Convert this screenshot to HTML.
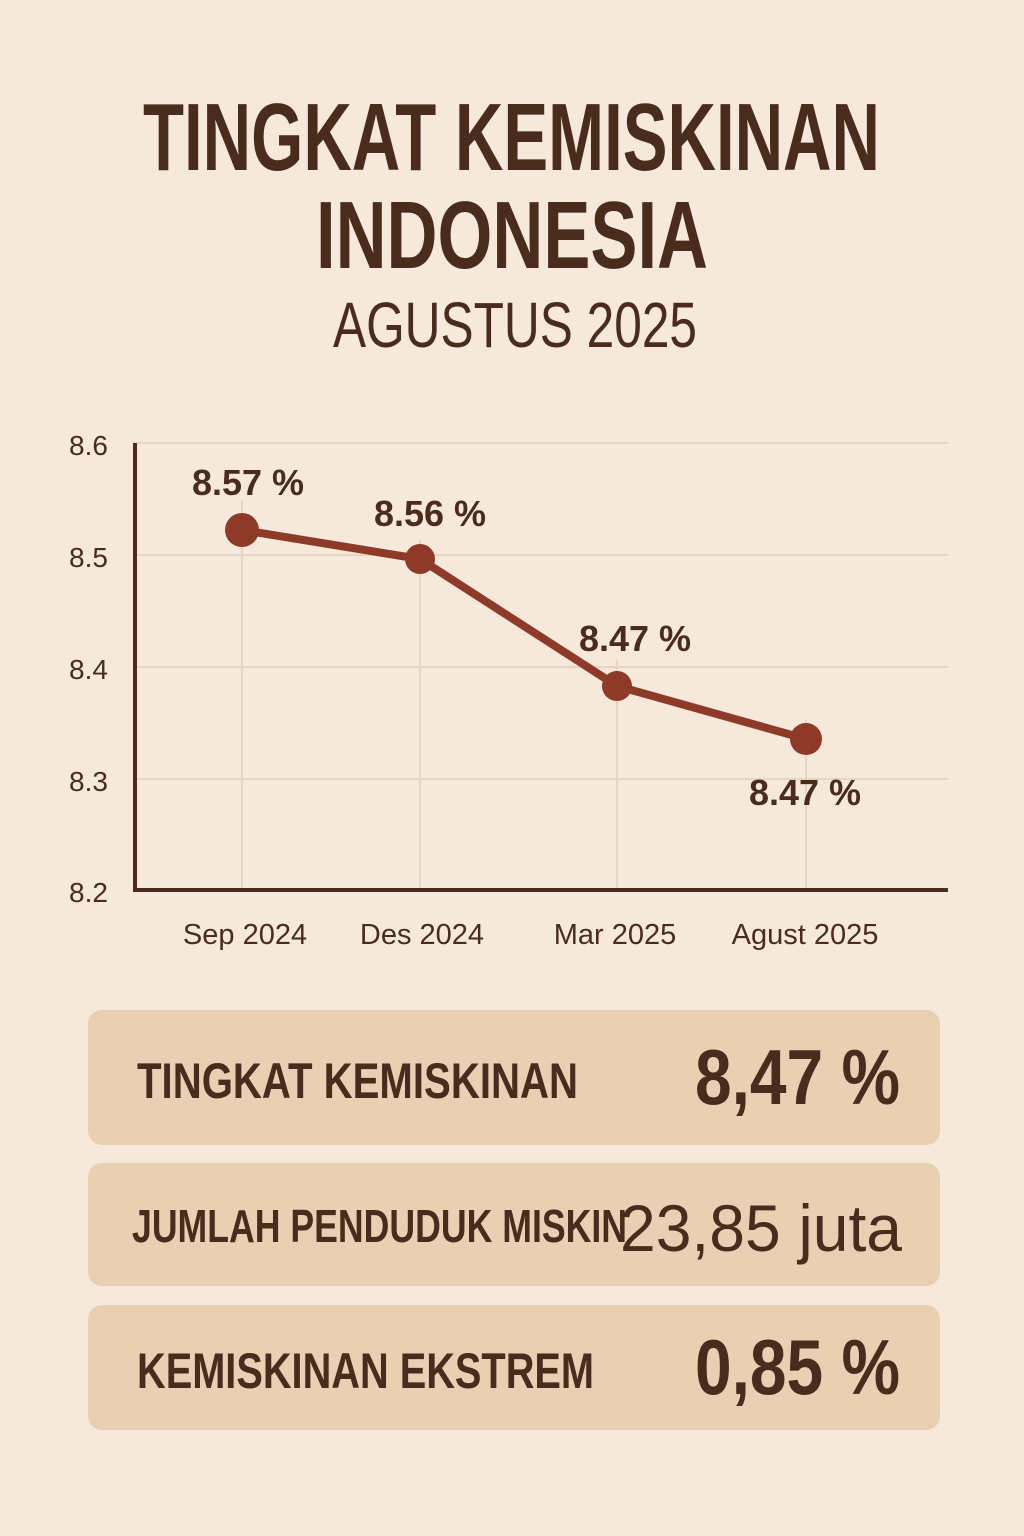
<!DOCTYPE html>
<html><head><meta charset="utf-8"><style>
html,body{margin:0;padding:0;background:#f6e8da;}
svg{display:block}
text{font-family:"Liberation Sans",sans-serif;fill:#4a2c1f}
</style></head><body>
<svg width="1024" height="1536" viewBox="0 0 1024 1536">
<rect width="1024" height="1536" fill="#f6e8da"/>
<text x="143" y="170" font-size="96" font-weight="bold" textLength="737" lengthAdjust="spacingAndGlyphs">TINGKAT KEMISKINAN</text>
<text x="316" y="268" font-size="96" font-weight="bold" textLength="392" lengthAdjust="spacingAndGlyphs">INDONESIA</text>
<text x="333" y="347" font-size="64" textLength="364" lengthAdjust="spacingAndGlyphs">AGUSTUS 2025</text>
<g stroke="#e6d5c2" stroke-width="2">
<line x1="135" y1="443" x2="948" y2="443"/><line x1="135" y1="555" x2="948" y2="555"/>
<line x1="135" y1="667" x2="948" y2="667"/><line x1="135" y1="779" x2="948" y2="779"/>
<line x1="242" y1="500" x2="242" y2="890"/><line x1="420" y1="540" x2="420" y2="890"/>
<line x1="617" y1="660" x2="617" y2="890"/><line x1="806" y1="720" x2="806" y2="890"/>
</g>
<path d="M135 443V890H948" fill="none" stroke="#4a2c1f" stroke-width="4"/>
<g font-size="28">
<text x="69" y="455">8.6</text><text x="69" y="567">8.5</text><text x="69" y="679">8.4</text><text x="69" y="791">8.3</text><text x="69" y="902">8.2</text>
</g>
<polyline points="242,530 420,559 617,686 806,739" fill="none" stroke="#8e3a28" stroke-width="8"/>
<g fill="#8e3a28"><circle cx="242" cy="530" r="17"/><circle cx="420" cy="559" r="15"/><circle cx="617" cy="686" r="15"/><circle cx="806" cy="739" r="16"/></g>
<g font-size="36" font-weight="bold" text-anchor="middle">
<text x="248" y="495">8.57 %</text><text x="430" y="526">8.56 %</text>
<text x="635" y="651">8.47 %</text><text x="805" y="805">8.47 %</text>
</g>
<g font-size="29" text-anchor="middle">
<text x="245" y="944">Sep 2024</text><text x="422" y="944">Des 2024</text>
<text x="615" y="944">Mar 2025</text><text x="805" y="944">Agust 2025</text>
</g>
<g fill="#e9d0b2">
<rect x="88" y="1010" width="852" height="135" rx="14"/>
<rect x="88" y="1163" width="852" height="123" rx="14"/>
<rect x="88" y="1305" width="852" height="125" rx="14"/>
</g>
<g font-weight="bold">
<text x="137" y="1098" font-size="50" textLength="441" lengthAdjust="spacingAndGlyphs">TINGKAT KEMISKINAN</text>
<text x="132" y="1242" font-size="46" textLength="495" lengthAdjust="spacingAndGlyphs">JUMLAH PENDUDUK MISKIN</text>
<text x="137" y="1388" font-size="50" textLength="457" lengthAdjust="spacingAndGlyphs">KEMISKINAN EKSTREM</text>
<text x="695" y="1104" font-size="78" textLength="205" lengthAdjust="spacingAndGlyphs">8,47 %</text>
<text x="620" y="1251" font-size="66" font-weight="normal" textLength="282" lengthAdjust="spacingAndGlyphs">23,85 juta</text>
<text x="695" y="1394" font-size="78" textLength="205" lengthAdjust="spacingAndGlyphs">0,85 %</text>
</g>
</svg>
</body></html>
